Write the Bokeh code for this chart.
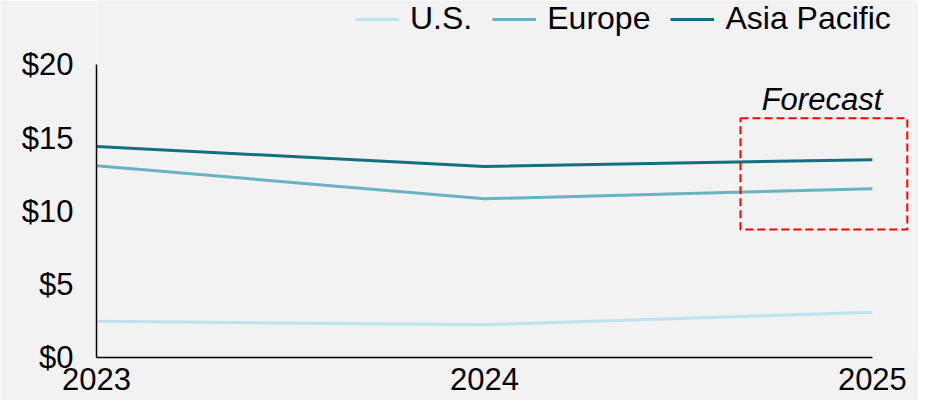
from bokeh.plotting import figure
from bokeh.models import Range1d, FixedTicker, PrintfTickFormatter, Legend, LegendItem
from bokeh.core.properties import value
from bokeh.embed import file_html
from bokeh.resources import INLINE

years = [2023, 2024, 2025]
us = [2.48, 2.23, 3.1]
europe = [13.1, 10.85, 11.54]
asia_pacific = [14.42, 13.06, 13.52]
series_names = ["U.S.", "Europe", "Asia Pacific"]
series_colors = ["#BEE3F0", "#67B3C2", "#13707F"]
y_ticks = [0, 5, 10, 15, 20]
forecast_box = dict(left=2024.66, right=2025.09, bottom=8.75, top=16.35)
forecast_label = dict(x=2024.87, y=17.6, text="Forecast")

FONT = "Liberation Sans"
FS = "31px"

p = figure(width=918, height=400, output_backend="svg", toolbar_location=None,
           x_range=Range1d(2023, 2025.106), y_range=Range1d(0, 24.4),
           min_border_left=96, min_border_right=5, min_border_top=0, min_border_bottom=43,
           background_fill_color="#F2F2F2", border_fill_color="#F2F2F2")
p.outline_line_color = None
p.xgrid.grid_line_color = None
p.ygrid.grid_line_color = None

renderers = []
for vals, c in zip([us, europe, asia_pacific], series_colors):
    r = p.line(years, vals, line_color=c, line_width=3)
    renderers.append(r)

p.quad(left=[forecast_box["left"]], right=[forecast_box["right"]],
       bottom=[forecast_box["bottom"]], top=[forecast_box["top"]],
       fill_alpha=0, line_color="#FF0000", line_width=2, line_dash="8 4")
p.text(x=[forecast_label["x"]], y=[forecast_label["y"]], text=[forecast_label["text"]],
       text_font=value(FONT), text_font_size=FS, text_font_style="italic",
       text_align="center", text_baseline="middle", text_color="#000000")

xa = p.xaxis[0]
xa.ticker = FixedTicker(ticks=years)
xa.bounds = (years[0], years[-1])
xa.axis_line_color = "black"
xa.axis_line_width = 1.5
xa.major_tick_line_color = None
xa.minor_tick_line_color = None
xa.major_tick_out = 0
xa.major_tick_in = 0
xa.major_label_standoff = 10
xa.major_label_text_font = FONT
xa.major_label_text_font_size = FS
xa.major_label_text_color = "black"

ya = p.yaxis[0]
ya.ticker = FixedTicker(ticks=y_ticks)
ya.bounds = (y_ticks[0], y_ticks[-1])
ya.formatter = PrintfTickFormatter(format="$%d")
ya.axis_line_color = "black"
ya.axis_line_width = 1.5
ya.major_tick_line_color = None
ya.minor_tick_line_color = None
ya.major_tick_out = 0
ya.major_tick_in = 0
ya.major_label_standoff = 23
ya.major_label_text_font = FONT
ya.major_label_text_font_size = FS
ya.major_label_text_color = "black"

legend = Legend(items=[LegendItem(label=n, renderers=[r]) for n, r in zip(series_names, renderers)],
                orientation="horizontal", location=(259, 320),
                background_fill_alpha=0, border_line_color=None,
                padding=0, margin=0, spacing=20, label_standoff=11,
                glyph_width=44, glyph_height=30, label_height=30,
                label_text_font=FONT, label_text_font_size="32px", label_text_color="black")
p.add_layout(legend, "center")

open("out.html", "w").write(file_html(p, INLINE))
